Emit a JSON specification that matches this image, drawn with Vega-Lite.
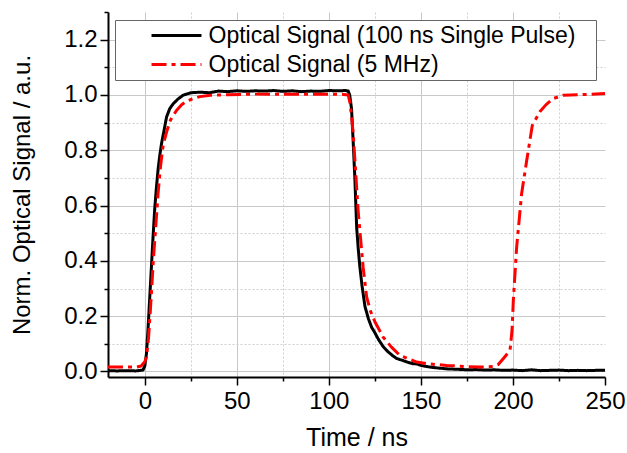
{
  "$schema": "https://vega.github.io/schema/vega-lite/v6.json",
  "autosize": {"type": "none"},
  "width": 497,
  "height": 365,
  "padding": {"left": 108, "top": 12, "right": 22, "bottom": 76},
  "config": {"view": {"stroke": null}, "font": "Liberation Sans"},
  "data": {"values": [
    {"t": -20, "v": 0.003, "s": "Optical Signal (100 ns Single Pulse)"},
    {"t": -15, "v": 0.002, "s": "Optical Signal (100 ns Single Pulse)"},
    {"t": -10, "v": 0.003, "s": "Optical Signal (100 ns Single Pulse)"},
    {"t": -5, "v": 0.002, "s": "Optical Signal (100 ns Single Pulse)"},
    {"t": -1, "v": 0.005, "s": "Optical Signal (100 ns Single Pulse)"},
    {"t": 0, "v": 0.02, "s": "Optical Signal (100 ns Single Pulse)"},
    {"t": 0.9, "v": 0.065, "s": "Optical Signal (100 ns Single Pulse)"},
    {"t": 1.8, "v": 0.16, "s": "Optical Signal (100 ns Single Pulse)"},
    {"t": 2.7, "v": 0.27, "s": "Optical Signal (100 ns Single Pulse)"},
    {"t": 3.6, "v": 0.38, "s": "Optical Signal (100 ns Single Pulse)"},
    {"t": 4.5, "v": 0.49, "s": "Optical Signal (100 ns Single Pulse)"},
    {"t": 5.4, "v": 0.59, "s": "Optical Signal (100 ns Single Pulse)"},
    {"t": 6.3, "v": 0.665, "s": "Optical Signal (100 ns Single Pulse)"},
    {"t": 7.2, "v": 0.73, "s": "Optical Signal (100 ns Single Pulse)"},
    {"t": 8.1, "v": 0.78, "s": "Optical Signal (100 ns Single Pulse)"},
    {"t": 9.1, "v": 0.825, "s": "Optical Signal (100 ns Single Pulse)"},
    {"t": 10.4, "v": 0.87, "s": "Optical Signal (100 ns Single Pulse)"},
    {"t": 11.8, "v": 0.92, "s": "Optical Signal (100 ns Single Pulse)"},
    {"t": 13.5, "v": 0.95, "s": "Optical Signal (100 ns Single Pulse)"},
    {"t": 15.4, "v": 0.968, "s": "Optical Signal (100 ns Single Pulse)"},
    {"t": 18, "v": 0.985, "s": "Optical Signal (100 ns Single Pulse)"},
    {"t": 20.8, "v": 0.999, "s": "Optical Signal (100 ns Single Pulse)"},
    {"t": 25, "v": 1.008, "s": "Optical Signal (100 ns Single Pulse)"},
    {"t": 30, "v": 1.01, "s": "Optical Signal (100 ns Single Pulse)"},
    {"t": 35, "v": 1.008, "s": "Optical Signal (100 ns Single Pulse)"},
    {"t": 40, "v": 1.014, "s": "Optical Signal (100 ns Single Pulse)"},
    {"t": 45, "v": 1.012, "s": "Optical Signal (100 ns Single Pulse)"},
    {"t": 50, "v": 1.015, "s": "Optical Signal (100 ns Single Pulse)"},
    {"t": 55, "v": 1.013, "s": "Optical Signal (100 ns Single Pulse)"},
    {"t": 60, "v": 1.015, "s": "Optical Signal (100 ns Single Pulse)"},
    {"t": 65, "v": 1.014, "s": "Optical Signal (100 ns Single Pulse)"},
    {"t": 70, "v": 1.016, "s": "Optical Signal (100 ns Single Pulse)"},
    {"t": 75, "v": 1.013, "s": "Optical Signal (100 ns Single Pulse)"},
    {"t": 80, "v": 1.015, "s": "Optical Signal (100 ns Single Pulse)"},
    {"t": 85, "v": 1.012, "s": "Optical Signal (100 ns Single Pulse)"},
    {"t": 90, "v": 1.014, "s": "Optical Signal (100 ns Single Pulse)"},
    {"t": 95, "v": 1.013, "s": "Optical Signal (100 ns Single Pulse)"},
    {"t": 100, "v": 1.016, "s": "Optical Signal (100 ns Single Pulse)"},
    {"t": 105, "v": 1.015, "s": "Optical Signal (100 ns Single Pulse)"},
    {"t": 109, "v": 1.016, "s": "Optical Signal (100 ns Single Pulse)"},
    {"t": 110.5, "v": 1.014, "s": "Optical Signal (100 ns Single Pulse)"},
    {"t": 111.3, "v": 1.0, "s": "Optical Signal (100 ns Single Pulse)"},
    {"t": 112.3, "v": 0.95, "s": "Optical Signal (100 ns Single Pulse)"},
    {"t": 113.2, "v": 0.83, "s": "Optical Signal (100 ns Single Pulse)"},
    {"t": 114.1, "v": 0.7, "s": "Optical Signal (100 ns Single Pulse)"},
    {"t": 115.1, "v": 0.52, "s": "Optical Signal (100 ns Single Pulse)"},
    {"t": 116, "v": 0.44, "s": "Optical Signal (100 ns Single Pulse)"},
    {"t": 116.8, "v": 0.38, "s": "Optical Signal (100 ns Single Pulse)"},
    {"t": 118, "v": 0.31, "s": "Optical Signal (100 ns Single Pulse)"},
    {"t": 119.6, "v": 0.235, "s": "Optical Signal (100 ns Single Pulse)"},
    {"t": 121.5, "v": 0.19, "s": "Optical Signal (100 ns Single Pulse)"},
    {"t": 123.2, "v": 0.16, "s": "Optical Signal (100 ns Single Pulse)"},
    {"t": 125, "v": 0.14, "s": "Optical Signal (100 ns Single Pulse)"},
    {"t": 127, "v": 0.115, "s": "Optical Signal (100 ns Single Pulse)"},
    {"t": 129.5, "v": 0.09, "s": "Optical Signal (100 ns Single Pulse)"},
    {"t": 132, "v": 0.072, "s": "Optical Signal (100 ns Single Pulse)"},
    {"t": 134.5, "v": 0.058, "s": "Optical Signal (100 ns Single Pulse)"},
    {"t": 136.8, "v": 0.047, "s": "Optical Signal (100 ns Single Pulse)"},
    {"t": 140, "v": 0.04, "s": "Optical Signal (100 ns Single Pulse)"},
    {"t": 143, "v": 0.033, "s": "Optical Signal (100 ns Single Pulse)"},
    {"t": 145.8, "v": 0.028, "s": "Optical Signal (100 ns Single Pulse)"},
    {"t": 148, "v": 0.027, "s": "Optical Signal (100 ns Single Pulse)"},
    {"t": 150, "v": 0.022, "s": "Optical Signal (100 ns Single Pulse)"},
    {"t": 153, "v": 0.018, "s": "Optical Signal (100 ns Single Pulse)"},
    {"t": 156, "v": 0.015, "s": "Optical Signal (100 ns Single Pulse)"},
    {"t": 160, "v": 0.012, "s": "Optical Signal (100 ns Single Pulse)"},
    {"t": 165, "v": 0.009, "s": "Optical Signal (100 ns Single Pulse)"},
    {"t": 170, "v": 0.008, "s": "Optical Signal (100 ns Single Pulse)"},
    {"t": 175, "v": 0.006, "s": "Optical Signal (100 ns Single Pulse)"},
    {"t": 180, "v": 0.007, "s": "Optical Signal (100 ns Single Pulse)"},
    {"t": 185, "v": 0.005, "s": "Optical Signal (100 ns Single Pulse)"},
    {"t": 190, "v": 0.006, "s": "Optical Signal (100 ns Single Pulse)"},
    {"t": 195, "v": 0.004, "s": "Optical Signal (100 ns Single Pulse)"},
    {"t": 200, "v": 0.005, "s": "Optical Signal (100 ns Single Pulse)"},
    {"t": 205, "v": 0.003, "s": "Optical Signal (100 ns Single Pulse)"},
    {"t": 210, "v": 0.006, "s": "Optical Signal (100 ns Single Pulse)"},
    {"t": 215, "v": 0.003, "s": "Optical Signal (100 ns Single Pulse)"},
    {"t": 220, "v": 0.004, "s": "Optical Signal (100 ns Single Pulse)"},
    {"t": 225, "v": 0.005, "s": "Optical Signal (100 ns Single Pulse)"},
    {"t": 230, "v": 0.003, "s": "Optical Signal (100 ns Single Pulse)"},
    {"t": 235, "v": 0.004, "s": "Optical Signal (100 ns Single Pulse)"},
    {"t": 240, "v": 0.003, "s": "Optical Signal (100 ns Single Pulse)"},
    {"t": 245, "v": 0.004, "s": "Optical Signal (100 ns Single Pulse)"},
    {"t": 250, "v": 0.004, "s": "Optical Signal (100 ns Single Pulse)"},
    {"t": -20, "v": 0.016, "s": "Optical Signal (5 MHz)"},
    {"t": -10, "v": 0.016, "s": "Optical Signal (5 MHz)"},
    {"t": -4.5, "v": 0.016, "s": "Optical Signal (5 MHz)"},
    {"t": -2, "v": 0.02, "s": "Optical Signal (5 MHz)"},
    {"t": 0, "v": 0.035, "s": "Optical Signal (5 MHz)"},
    {"t": 0.9, "v": 0.052, "s": "Optical Signal (5 MHz)"},
    {"t": 2, "v": 0.12, "s": "Optical Signal (5 MHz)"},
    {"t": 3, "v": 0.22, "s": "Optical Signal (5 MHz)"},
    {"t": 4, "v": 0.33, "s": "Optical Signal (5 MHz)"},
    {"t": 4.6, "v": 0.4, "s": "Optical Signal (5 MHz)"},
    {"t": 6, "v": 0.53, "s": "Optical Signal (5 MHz)"},
    {"t": 7.2, "v": 0.644, "s": "Optical Signal (5 MHz)"},
    {"t": 8.5, "v": 0.74, "s": "Optical Signal (5 MHz)"},
    {"t": 10, "v": 0.82, "s": "Optical Signal (5 MHz)"},
    {"t": 12, "v": 0.87, "s": "Optical Signal (5 MHz)"},
    {"t": 14, "v": 0.91, "s": "Optical Signal (5 MHz)"},
    {"t": 17.2, "v": 0.944, "s": "Optical Signal (5 MHz)"},
    {"t": 20, "v": 0.965, "s": "Optical Signal (5 MHz)"},
    {"t": 23, "v": 0.978, "s": "Optical Signal (5 MHz)"},
    {"t": 26.4, "v": 0.987, "s": "Optical Signal (5 MHz)"},
    {"t": 30, "v": 0.994, "s": "Optical Signal (5 MHz)"},
    {"t": 35.5, "v": 0.999, "s": "Optical Signal (5 MHz)"},
    {"t": 45, "v": 1.001, "s": "Optical Signal (5 MHz)"},
    {"t": 60, "v": 1.003, "s": "Optical Signal (5 MHz)"},
    {"t": 80, "v": 1.003, "s": "Optical Signal (5 MHz)"},
    {"t": 100, "v": 1.003, "s": "Optical Signal (5 MHz)"},
    {"t": 108, "v": 1.002, "s": "Optical Signal (5 MHz)"},
    {"t": 110.5, "v": 1.0, "s": "Optical Signal (5 MHz)"},
    {"t": 111.5, "v": 0.97, "s": "Optical Signal (5 MHz)"},
    {"t": 112.5, "v": 0.91, "s": "Optical Signal (5 MHz)"},
    {"t": 113.2, "v": 0.86, "s": "Optical Signal (5 MHz)"},
    {"t": 115.9, "v": 0.58, "s": "Optical Signal (5 MHz)"},
    {"t": 118.6, "v": 0.377, "s": "Optical Signal (5 MHz)"},
    {"t": 120.5, "v": 0.27, "s": "Optical Signal (5 MHz)"},
    {"t": 122.5, "v": 0.22, "s": "Optical Signal (5 MHz)"},
    {"t": 125, "v": 0.18, "s": "Optical Signal (5 MHz)"},
    {"t": 129.5, "v": 0.124, "s": "Optical Signal (5 MHz)"},
    {"t": 134, "v": 0.088, "s": "Optical Signal (5 MHz)"},
    {"t": 138.6, "v": 0.058, "s": "Optical Signal (5 MHz)"},
    {"t": 147.7, "v": 0.034, "s": "Optical Signal (5 MHz)"},
    {"t": 155, "v": 0.027, "s": "Optical Signal (5 MHz)"},
    {"t": 164, "v": 0.022, "s": "Optical Signal (5 MHz)"},
    {"t": 174, "v": 0.018, "s": "Optical Signal (5 MHz)"},
    {"t": 182, "v": 0.016, "s": "Optical Signal (5 MHz)"},
    {"t": 189.3, "v": 0.018, "s": "Optical Signal (5 MHz)"},
    {"t": 192, "v": 0.025, "s": "Optical Signal (5 MHz)"},
    {"t": 194.7, "v": 0.046, "s": "Optical Signal (5 MHz)"},
    {"t": 198.4, "v": 0.076, "s": "Optical Signal (5 MHz)"},
    {"t": 199.5, "v": 0.15, "s": "Optical Signal (5 MHz)"},
    {"t": 200.2, "v": 0.257, "s": "Optical Signal (5 MHz)"},
    {"t": 202, "v": 0.45, "s": "Optical Signal (5 MHz)"},
    {"t": 204.7, "v": 0.643, "s": "Optical Signal (5 MHz)"},
    {"t": 207.4, "v": 0.76, "s": "Optical Signal (5 MHz)"},
    {"t": 210.5, "v": 0.89, "s": "Optical Signal (5 MHz)"},
    {"t": 214.7, "v": 0.94, "s": "Optical Signal (5 MHz)"},
    {"t": 218, "v": 0.965, "s": "Optical Signal (5 MHz)"},
    {"t": 221.9, "v": 0.987, "s": "Optical Signal (5 MHz)"},
    {"t": 227.3, "v": 0.999, "s": "Optical Signal (5 MHz)"},
    {"t": 240, "v": 1.002, "s": "Optical Signal (5 MHz)"},
    {"t": 250, "v": 1.005, "s": "Optical Signal (5 MHz)"}
  ]},
  "layer": [
    {
      "mark": {"type": "point", "opacity": 0},
      "encoding": {
        "x": {"field": "t", "type": "quantitative",
          "scale": {"domain": [-20, 250], "nice": false, "zero": false},
          "axis": {"orient": "bottom", "values": [25, 75, 125, 175, 225], "labels": false, "domain": false, "title": null,
            "tickSize": 4, "tickWidth": 1.5, "tickColor": "black",
            "grid": true, "gridDash": [2, 2], "gridColor": "#cfcfcf", "gridWidth": 1}},
        "y": {"field": "v", "type": "quantitative",
          "scale": {"domain": [-0.02, 1.3], "nice": false, "zero": false},
          "axis": {"orient": "left", "values": [0.1, 0.3, 0.5, 0.7, 0.9, 1.1, 1.3], "labels": false, "domain": false, "title": null,
            "tickSize": 4, "tickWidth": 1.5, "tickColor": "black",
            "grid": true, "gridDash": [2, 2], "gridColor": "#cfcfcf", "gridWidth": 1,
            "gridOpacity": {"condition": {"test": "datum.value > 1.25", "value": 0}, "value": 1}}}
      }
    },
    {
      "mark": {"type": "line", "strokeWidth": 3, "strokeJoin": "round"},
      "encoding": {
        "x": {"field": "t", "type": "quantitative",
          "scale": {"domain": [-20, 250], "nice": false, "zero": false},
          "axis": {"orient": "bottom", "values": [0, 50, 100, 150, 200, 250], "title": "Time / ns",
            "titleFontSize": 25, "titleFontWeight": "normal", "titleColor": "black", "titleFont": "Liberation Sans", "titlePadding": 12,
            "labelFontSize": 24, "labelColor": "black", "labelFont": "Liberation Sans", "labelPadding": 4, "labelFlush": false,
            "tickSize": 8, "tickWidth": 1.5, "tickColor": "black",
            "domainColor": "black", "domainWidth": 2,
            "grid": true, "gridColor": "#c8c8c8", "gridWidth": 1,
            "gridOpacity": {"condition": {"test": "datum.value > 240", "value": 0}, "value": 1}}},
        "y": {"field": "v", "type": "quantitative",
          "scale": {"domain": [-0.02, 1.3], "nice": false, "zero": false},
          "axis": {"orient": "left", "values": [0, 0.2, 0.4, 0.6, 0.8, 1.0, 1.2], "format": ".1f", "title": "Norm. Optical Signal / a.u.",
            "titleFontSize": 24, "titleFontWeight": "normal", "titleColor": "black", "titleFont": "Liberation Sans", "titlePadding": 29,
            "labelFontSize": 24, "labelColor": "black", "labelFont": "Liberation Sans", "labelPadding": 3, "labelFlush": false,
            "tickSize": 8, "tickWidth": 1.5, "tickColor": "black",
            "domainColor": "black", "domainWidth": 2,
            "grid": true, "gridColor": "#c8c8c8", "gridWidth": 1}},
        "color": {"field": "s", "type": "nominal",
          "scale": {"domain": ["Optical Signal (100 ns Single Pulse)", "Optical Signal (5 MHz)"], "range": ["#000000", "#ff0000"]},
          "legend": {"orient": "none", "legendX": 7, "legendY": 8, "title": null,
            "symbolType": "M-2.27,0H2.27", "symbolSize": 484, "symbolStrokeWidth": 3,
            "labelFontSize": 23, "labelFont": "Liberation Sans", "labelColor": "black", "labelLimit": 800,
            "labelExpr": "datum.label + '\u00a0\u00a0\u2009\u200b'",
            "padding": 3, "strokeColor": "#666666", "fillColor": "white",
            "symbolOffset": 46, "labelOffset": 19.5, "rowPadding": 4}},
        "strokeDash": {"field": "s", "type": "nominal",
          "scale": {"domain": ["Optical Signal (100 ns Single Pulse)", "Optical Signal (5 MHz)"], "range": [[1, 0], [15, 5, 4, 5]]},
          "legend": {"title": null, "labelExpr": "datum.label + '\u00a0\u00a0\u2009\u200b'"}}
      }
    }
  ],
  "resolve": {"axis": {"x": "independent", "y": "independent"}}
}
